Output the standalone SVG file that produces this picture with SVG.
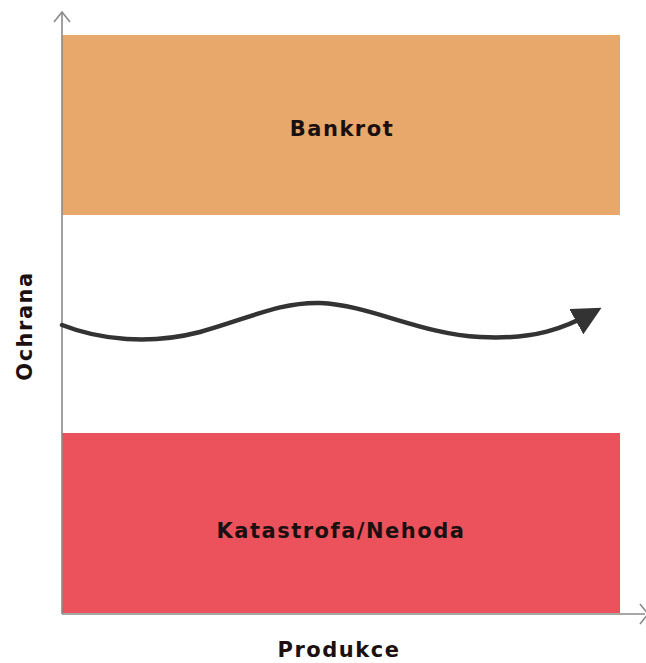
<svg xmlns="http://www.w3.org/2000/svg" width="646" height="663" viewBox="0 0 646 663">
  <style>
    .label { font-family: "DejaVu Sans", "Liberation Sans", sans-serif; font-weight: bold; font-size: 21px; letter-spacing: 1.5px; fill: #1a1010; text-anchor: middle; }
    .axis { stroke: #8a8a8a; stroke-width: 1.6; fill: none; }
    .flow { stroke: #333333; stroke-width: 4.5; fill: none; stroke-linecap: round; }
  </style>
  <defs>
    <marker id="flowHead" viewBox="0 0 10 10" refX="7" refY="5" markerWidth="6.4" markerHeight="6.4" orient="auto" markerUnits="strokeWidth">
      <path d="M0,0 L10,5 L0,10 Z" fill="#333333"/>
    </marker>
  </defs>
  <rect width="646" height="663" fill="#ffffff"/>

  <g id="bankrot">
    <rect x="62" y="35" width="558" height="180" fill="#E8A86B"/>
    <text class="label" x="342" y="136">Bankrot</text>
  </g>

  <g id="katastrofa">
    <rect x="62" y="433" width="558" height="180" fill="#EC525B"/>
    <text class="label" x="341" y="538">Katastrofa/Nehoda</text>
  </g>

  <g id="axes">
    <path class="axis" d="M62,614 V12"/>
    <path class="axis" d="M54,22 L62,12 L70,22"/>
    <path class="axis" d="M62,614 H645"/>
    <path class="axis" d="M640,604 L648,614 L640,624"/>
    <text class="label" x="339" y="657">Produkce</text>
    <text class="label" transform="translate(32,326) rotate(-90)">Ochrana</text>
  </g>

  <g id="connectors">
    <path class="flow" marker-end="url(#flowHead)" d="M62,325 C100,340 150,345 200,332 C250,318 280,302 320,303 C370,305 420,334 480,337 C535,340 565,328 594,312"/>
  </g>
</svg>
